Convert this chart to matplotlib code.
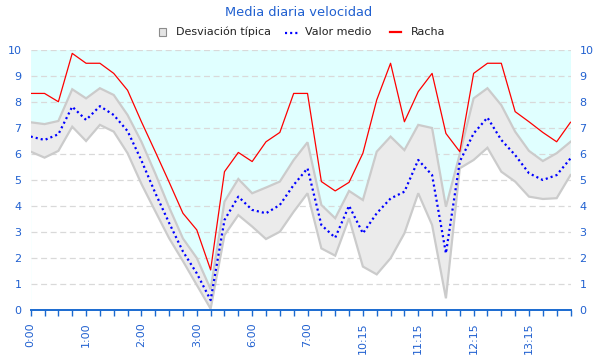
import numpy as np
import matplotlib
matplotlib.use('Agg')
import matplotlib.pyplot as plt
from matplotlib.lines import Line2D
from matplotlib.patches import Rectangle

# ---- data -------------------------------------------------------------
categories = ['0:00', '0:15', '0:30', '0:45', '1:00', '1:15', '1:30', '1:45',
              '2:00', '2:15', '2:30', '2:45', '3:00', '3:15', '3:30', '5:45',
              '6:00', '6:15', '6:30', '6:45', '7:00', '7:15', '7:30', '10:00',
              '10:15', '10:30', '10:45', '11:00', '11:15', '11:30', '11:45', '12:00',
              '12:15', '12:30', '12:45', '13:00', '13:15', '13:30', '13:45', '14:00']
label_every = 4

racha = [8.33, 8.33, 8.01, 9.87, 9.49, 9.49, 9.10, 8.45, 7.24, 6.09,
         4.92, 3.72, 3.08, 1.54, 5.32, 6.06, 5.71, 6.47, 6.83, 8.33,
         8.33, 4.94, 4.58, 4.91, 6.03, 8.08, 9.49, 7.24, 8.40, 9.10,
         6.79, 6.09, 9.10, 9.49, 9.49, 7.63, 7.24, 6.83, 6.47, 7.22]

valor_medio = [6.67, 6.54, 6.76, 7.82, 7.31, 7.84, 7.50, 6.88, 5.75, 4.50,
               3.35, 2.25, 1.41, 0.38, 3.46, 4.36, 3.85, 3.72, 4.04, 4.81,
               5.45, 3.27, 2.78, 4.01, 2.95, 3.72, 4.29, 4.55, 5.77, 5.19,
               2.18, 5.71, 6.79, 7.40, 6.54, 5.96, 5.26, 5.00, 5.19, 5.83]

desv_sup = [7.22, 7.15, 7.27, 8.49, 8.14, 8.53, 8.27, 7.50, 6.47, 5.25,
            3.95, 2.75, 2.00, 0.80, 4.17, 5.04, 4.49, 4.71, 4.94, 5.77,
            6.45, 4.04, 3.53, 4.58, 4.23, 6.09, 6.67, 6.15, 7.12, 7.00,
            3.97, 6.00, 8.14, 8.53, 7.88, 6.86, 6.12, 5.73, 6.03, 6.47]

desv_inf = [6.09, 5.86, 6.12, 7.05, 6.50, 7.12, 6.86, 6.03, 4.85, 3.80,
            2.76, 1.88, 0.96, 0.05, 2.88, 3.65, 3.21, 2.73, 3.01, 3.78,
            4.49, 2.37, 2.09, 3.53, 1.67, 1.37, 1.99, 2.95, 4.49, 3.27,
            0.45, 5.45, 5.77, 6.24, 5.32, 4.94, 4.36, 4.27, 4.30, 5.19]

y_ticks = list(range(0, 11))
title = 'Media diaria velocidad'
legend_labels = ['Desviación típica', 'Valor medio', 'Racha']

# ---- style ------------------------------------------------------------
plt.rcParams['lines.scale_dashes'] = False
plt.rcParams['font.family'] = ['DejaVu Sans']
blue_txt = '#2060d0'
axis_col = '#1a6ad0'
cyan = '#e0ffff'
band_fill = '#ebebeb'
band_edge = '#cbcbcb'
mean_style = (0, (1.5, 2.2))

W, H = 600, 360
fig = plt.figure(figsize=(W / 100, H / 100), dpi=100)
L, R, T, B = 30.7, 570.5, 50, 310
ax = fig.add_axes([L / W, 1 - B / H, (R - L) / W, (B - T) / H])

x = np.arange(len(categories))
ax.set_xlim(0, len(categories) - 1)
ax.set_ylim(y_ticks[0], y_ticks[-1])
ax.set_facecolor(cyan)
ax.set_axisbelow('line')

ax.fill_between(x, 0, desv_inf, color='white', lw=0, zorder=1)
ax.fill_between(x, desv_inf, desv_sup, facecolor=band_fill, lw=0, zorder=2)
ax.plot(x, desv_sup, color=band_edge, lw=1.6, zorder=2.2, solid_joinstyle='miter')
ax.plot(x, desv_inf, color=band_edge, lw=1.6, zorder=2.2, solid_joinstyle='miter')
ax.plot(x, racha, color='#ff0000', lw=0.9, zorder=3)
ax.plot(x, valor_medio, color='#0000ff', lw=1.6, ls=mean_style, zorder=4)

# grid
ax.set_yticks(y_ticks)
ax.yaxis.grid(True, color='#d9d9d9', lw=0.9, ls=(0, (4.3, 2.6)))
ax.xaxis.grid(False)
for gl, v in zip(ax.yaxis.get_gridlines(), y_ticks):
    if v == 0:
        gl.set_visible(False)

ax.tick_params(axis='y', length=0, labelsize=8, labelcolor=blue_txt, pad=6.5,
               left=False, right=False, labelleft=True, labelright=True)

ax.set_xticks(x)
ax.set_xticklabels([c if i % label_every == 0 else '' for i, c in enumerate(categories)],
                   rotation=90)
ax.tick_params(axis='x', direction='out', length=4.5, width=1, color=axis_col,
               labelsize=8, labelcolor=blue_txt, pad=4.5)

for s in ['left', 'right', 'top']:
    ax.spines[s].set_visible(False)
ax.spines['bottom'].set_color(axis_col)
ax.spines['bottom'].set_linewidth(1.4)
ax.spines['bottom'].set_zorder(5)

# title
fig.text(299 / W, 1 - 16 / H, title, ha='center', va='baseline',
         fontsize=9.4, color=blue_txt)

# legend (manual)
def fx(px):
    return px / W

def fy(py):
    return 1 - py / H

fig.add_artist(Rectangle((fx(158.5), fy(35.5)), 7.2 / W, 7.2 / H,
                         transform=fig.transFigure, facecolor='#e4e4e4',
                         edgecolor='#8c8c8c', lw=0.8))
fig.text(fx(176.5), fy(35.3), legend_labels[0], fontsize=8, color='#222222', va='baseline')
fig.add_artist(Line2D([fx(285), fx(300)], [fy(32.5), fy(32.5)], transform=fig.transFigure,
                      color='#0000ff', lw=1.6, ls=mean_style))
fig.text(fx(305), fy(35.3), legend_labels[1], fontsize=8, color='#222222', va='baseline')
fig.add_artist(Line2D([fx(390), fx(401)], [fy(32.3), fy(32.3)], transform=fig.transFigure,
                      color='#ff0000', lw=1.6))
fig.text(fx(410.5), fy(35.3), legend_labels[2], fontsize=8, color='#222222', va='baseline')

fig.savefig('out.png', dpi=100, facecolor='white')
